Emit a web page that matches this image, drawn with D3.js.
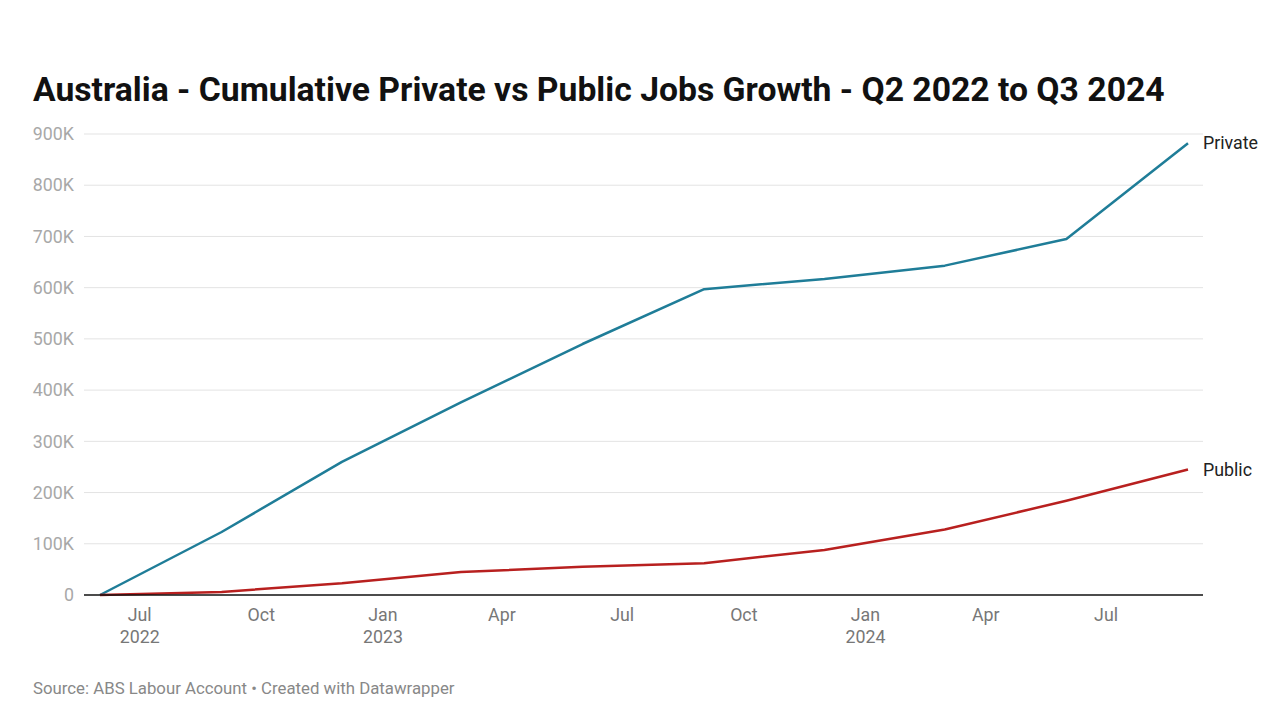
<!DOCTYPE html>
<html><head><meta charset="utf-8">
<script src="https://cdn.jsdelivr.net/npm/d3@7"></script>
<style>
body{margin:0;background:#fff;font-family:Roboto,"Noto Sans",sans-serif;}
svg{display:block}
</style></head>
<body><svg id="c" width="1279" height="720"></svg>
<script>
const dates = ["2022-06-01","2022-09-01","2022-12-01","2023-03-01","2023-06-01","2023-09-01","2023-12-01","2024-03-01","2024-06-01","2024-09-01"];
const privateJobs = [0,123000,260000,376000,490000,597000,617000,643000,695000,882000];
const publicJobs = [0,6000,23000,45000,55000,62000,88000,128000,184000,245000];
const seriesNames = ["Private","Public"];
const yTicks = [0,100000,200000,300000,400000,500000,600000,700000,800000,900000];
const xTickDates = ["2022-07-01","2022-10-01","2023-01-01","2023-04-01","2023-07-01","2023-10-01","2024-01-01","2024-04-01","2024-07-01"];

const parse = d3.utcParse("%Y-%m-%d");
const svg = d3.select("#c");
const plotLeft = 84, plotRight = 1203, plotTop = 134, plotBottom = 595;
const x = d3.scaleUtc().domain([parse(dates[0]), parse(dates[dates.length-1])]).range([100, 1188]);
const y = d3.scaleLinear().domain([0, 900000]).range([plotBottom, plotTop]);

svg.append("text").attr("x",33).attr("y",101).attr("font-size",33.7).attr("font-weight",700)
  .attr("fill","#111").attr("font-family","Roboto")
  .text("Australia - Cumulative Private vs Public Jobs Growth - Q2 2022 to Q3 2024");

// grid
svg.append("g").selectAll("line").data(yTicks.slice(1)).join("line")
  .attr("x1",plotLeft).attr("x2",plotRight).attr("y1",d=>y(d)).attr("y2",d=>y(d))
  .attr("stroke","#e3e3e3").attr("stroke-width",1);
// y labels
svg.append("g").selectAll("text").data(yTicks).join("text")
  .attr("x",74).attr("y",d=>y(d)).attr("dy","0.35em").attr("text-anchor","end")
  .attr("font-size",17.8).attr("fill","#a8a8a8")
  .text(d=> d===0 ? "0" : d3.format("d")(d/1000)+"K");

// x labels
const xt = svg.append("g").selectAll("g").data(xTickDates.map(parse)).join("g")
  .attr("transform",d=>`translate(${x(d)},0)`);
xt.append("text").attr("y",621).attr("text-anchor","middle").attr("font-size",17.8).attr("fill","#777")
  .text(d=>d3.utcFormat("%b")(d));
xt.filter(d=>d.getUTCMonth()===0 || (d.getUTCMonth()===6 && d.getUTCFullYear()===2022))
  .append("text").attr("y",643).attr("text-anchor","middle").attr("font-size",17.8).attr("fill","#777")
  .text(d=>d3.utcFormat("%Y")(d));

const line = d3.line().x(d=>x(d[0])).y(d=>y(d[1]));
const colors = ["#1f7d98","#b8201f"];
[privateJobs, publicJobs].forEach((vals,i)=>{
  const pts = dates.map((d,j)=>[parse(d), vals[j]]);
  svg.append("path").datum(pts).attr("d",line).attr("fill","none")
    .attr("stroke",colors[i]).attr("stroke-width",2.5).attr("stroke-linejoin","round");
  svg.append("text").attr("x",1203).attr("y",y(vals[vals.length-1])).attr("dy","0.35em")
    .attr("font-size",17.8).attr("fill","#222").text(seriesNames[i]);
});

// baseline
svg.append("line").attr("x1",plotLeft).attr("x2",plotRight).attr("y1",y(0)).attr("y2",y(0))
  .attr("stroke","#111").attr("stroke-width",1.5);

svg.append("text").attr("x",33).attr("y",694).attr("font-size",16.8).attr("fill","#888")
  .text("Source: ABS Labour Account • Created with Datawrapper");
</script></body></html>
